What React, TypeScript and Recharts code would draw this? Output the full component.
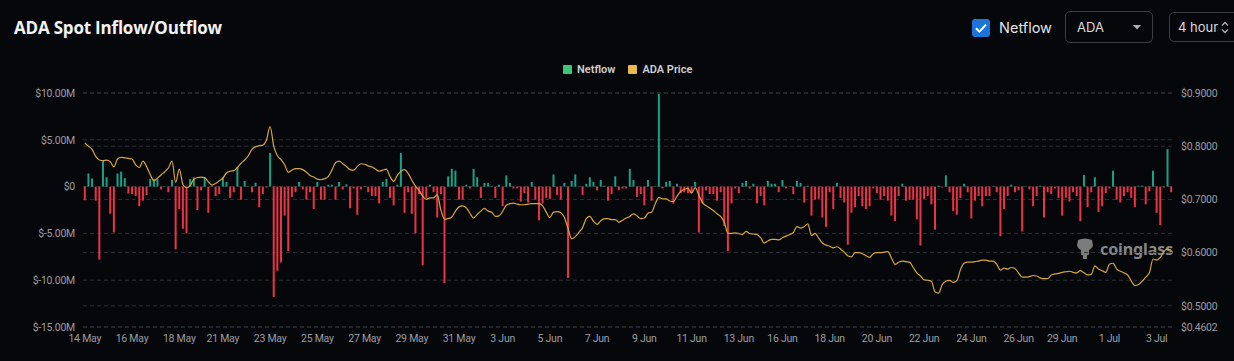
import React from 'react';
import { ComposedChart, Bar, Line, XAxis, YAxis, CartesianGrid, Cell } from 'recharts';

// Netflow per 4h bucket, in millions of USD
const NETFLOW: number[] = [
  -1.46, 1.4, 0.86, -1.5, -7.8, 2.75, 1.0, -2.9, -4.9, 1.4,
  1.6, 0.9, -0.75, -0.8, -1.0, -2.1, -1.5, -0.9, 0.8, 0.8,
  0.8, -0.3, 0.05, -0.6, 0.7, -6.7, -2.4, -4.5, -5.0, 0.8,
  1.0, -2.5, -0.4, 0.9, -2.8, 0.05, -1.0, -0.8, 1.0, 0.5,
  -1.2, -0.6, 2.1, -1.4, 0.6, 0.05, -0.6, 0.4, -2.2, -0.8,
  -0.1, 3.6, -11.8, -9.0, -8.1, -3.1, -6.9, -1.1, -0.6, 0.5,
  -0.3, -1.4, -0.6, -2.4, 0.5, -1.4, -1.4, 0.2, 0.2, -1.4,
  0.5, -0.3, 0.25, -2.3, -0.2, -3.0, -0.3, 0.05, -0.6, -1.0,
  -1.0, -1.8, 0.5, 0.8, -1.2, -2.0, 0.2, 3.6, -2.8, -0.6,
  -2.9, -5.0, -0.8, -8.4, -1.2, 0.2, -0.6, -3.3, -0.8, -10.3,
  1.1, 1.9, 1.7, -1.4, -1.4, 0.2, -0.2, 1.9, 1.0, -1.2,
  0.4, 0.4, 0.05, -1.2, 0.2, -2.1, 1.2, 0.4, -0.2, -0.2,
  -1.6, -0.7, -1.7, 0.5, -1.4, -3.6, -1.8, -1.2, -1.3, 1.3,
  -0.9, -1.4, 0.4, -9.75, 0.6, 1.3, 0.05, -0.9, 0.3, 1.0,
  0.5, -0.4, 0.7, 0.1, -1.5, -0.8, 1.1, -0.4, -0.2, -0.2,
  1.9, 0.7, -1.1, -0.8, -2.0, 0.7, -1.5, 0.05, 9.9, -0.2,
  0.5, 0.6, -1.8, 0.3, -0.7, -0.6, -0.7, -0.7, 0.5, -4.9,
  -1.8, -0.4, -0.8, -0.8, -1.5, -0.6, -4.2, -6.9, -1.8, -0.2,
  -0.7, 0.4, 0.6, -0.2, 0.3, -1.8, -1.0, -2.0, 0.6, 0.3,
  0.3, -0.6, 0.7, -0.2, 0.05, -0.8, 0.6, 0.4, -1.7, 0.1,
  -3.1, -1.4, -1.3, -3.3, -4.3, -0.6, -2.4, 0.4, -1.2, -1.7,
  -6.2, -2.8, -2.2, -1.0, -2.1, -2.4, -2.1, -0.2, -0.7, -1.4,
  -1.0, -1.5, -3.1, -3.7, -1.0, 0.3, -1.5, -1.4, -1.4, -3.5,
  -6.3, -1.3, -1.0, -1.9, -4.6, 0.1, -0.1, 1.2, -0.6, -2.6,
  -3.0, -1.2, 0.3, -0.6, -3.4, -1.5, -1.0, -2.1, -1.0, -1.0,
  0.05, -0.6, -5.3, -2.4, -1.0, 0.2, -0.6, -0.4, -4.8, 0.05,
  -0.3, -2.1, -1.0, 0.1, -3.3, -0.6, -0.8, -0.2, -1.2, -3.1,
  -1.2, -1.6, -0.6, -1.0, -3.7, 1.25, -2.2, -0.6, 1.0, -2.7,
  -2.1, -0.7, -0.2, 1.7, -1.4, -1.7, -1.0, -0.6, -1.2, -2.2,
  0.1, 0.1, -1.9, -0.5, 1.7, -2.8, -4.1, -0.1, 4.0, -0.6,
];

// ADA price per 4h bucket, USD
const PRICE: number[] = [
  0.806, 0.800, 0.794, 0.781, 0.774, 0.773, 0.774, 0.771, 0.761, 0.776,
  0.779, 0.778, 0.777, 0.776, 0.765, 0.760, 0.772, 0.762, 0.747, 0.735,
  0.740, 0.746, 0.752, 0.759, 0.772, 0.732, 0.757, 0.728, 0.722, 0.726,
  0.738, 0.741, 0.742, 0.741, 0.733, 0.727, 0.730, 0.735, 0.740, 0.750,
  0.753, 0.754, 0.760, 0.768, 0.774, 0.782, 0.794, 0.799, 0.801, 0.802,
  0.812, 0.837, 0.800, 0.782, 0.775, 0.765, 0.751, 0.755, 0.758, 0.758,
  0.756, 0.751, 0.745, 0.742, 0.738, 0.737, 0.739, 0.743, 0.755, 0.769,
  0.772, 0.767, 0.762, 0.756, 0.755, 0.762, 0.767, 0.766, 0.763, 0.761,
  0.757, 0.753, 0.755, 0.757, 0.743, 0.734, 0.745, 0.753, 0.756, 0.749,
  0.736, 0.725, 0.717, 0.706, 0.700, 0.703, 0.703, 0.709, 0.680, 0.663,
  0.664, 0.667, 0.678, 0.686, 0.688, 0.684, 0.674, 0.665, 0.672, 0.678,
  0.683, 0.678, 0.676, 0.668, 0.669, 0.678, 0.689, 0.692, 0.693, 0.691,
  0.690, 0.690, 0.691, 0.692, 0.692, 0.692, 0.688, 0.676, 0.666, 0.676,
  0.677, 0.675, 0.666, 0.645, 0.626, 0.630, 0.638, 0.647, 0.664, 0.668,
  0.659, 0.653, 0.660, 0.664, 0.664, 0.662, 0.662, 0.657, 0.661, 0.665,
  0.668, 0.673, 0.669, 0.664, 0.665, 0.674, 0.676, 0.692, 0.704, 0.701,
  0.701, 0.697, 0.696, 0.706, 0.715, 0.719, 0.721, 0.712, 0.722, 0.708,
  0.694, 0.688, 0.684, 0.679, 0.673, 0.668, 0.657, 0.636, 0.636, 0.637,
  0.636, 0.634, 0.640, 0.636, 0.635, 0.634, 0.628, 0.618, 0.622, 0.625,
  0.625, 0.624, 0.628, 0.631, 0.634, 0.638, 0.649, 0.646, 0.649, 0.654,
  0.632, 0.636, 0.627, 0.618, 0.614, 0.612, 0.609, 0.611, 0.607, 0.601,
  0.594, 0.592, 0.600, 0.600, 0.598, 0.594, 0.591, 0.598, 0.600, 0.600,
  0.601, 0.602, 0.590, 0.578, 0.582, 0.584, 0.583, 0.582, 0.572, 0.562,
  0.556, 0.549, 0.548, 0.546, 0.526, 0.524, 0.540, 0.546, 0.548, 0.544,
  0.547, 0.568, 0.580, 0.582, 0.582, 0.583, 0.584, 0.586, 0.586, 0.584,
  0.584, 0.578, 0.567, 0.571, 0.569, 0.572, 0.570, 0.562, 0.554, 0.554,
  0.555, 0.557, 0.556, 0.552, 0.551, 0.551, 0.558, 0.560, 0.561, 0.563,
  0.564, 0.565, 0.563, 0.562, 0.566, 0.562, 0.558, 0.559, 0.575, 0.569,
  0.566, 0.563, 0.578, 0.580, 0.569, 0.565, 0.562, 0.558, 0.547, 0.538,
  0.540, 0.546, 0.554, 0.562, 0.588, 0.586, 0.591, 0.602, 0.607, 0.604,
];

const TICK_IDX = [0, 13, 26, 38, 51, 64, 77, 90, 103, 115, 128, 141, 154, 167, 180, 192, 205, 218, 231, 244, 257, 269, 282, 295];
const TICK_LABELS = ['14 May', '16 May', '18 May', '21 May', '23 May', '25 May', '27 May', '29 May', '31 May', '3 Jun', '5 Jun', '7 Jun', '9 Jun', '11 Jun', '13 Jun', '16 Jun', '18 Jun', '20 Jun', '22 Jun', '24 Jun', '26 Jun', '29 Jun', '1 Jul', '3 Jul'];
const LEFT_TICKS = [-15, -10, -5, 0, 5, 10];
const RIGHT_TICKS = [0.4602, 0.5, 0.6, 0.7, 0.8, 0.9];

const GREEN = '#17a386';
const RED = '#ec3346';
const GOLD = '#d6a73c';
const BG = '#06070b';
const AXIS_TEXT = '#9b9ea4';
const GRID = '#2e3138';

const data = NETFLOW.map((v, i) => ({ i, netflow: v, price: PRICE[i] }));

const fmtLeft = (v: number) => (v === 0 ? '$0' : `$${v.toFixed(2)}M`);
const fmtRight = (v: number) => `$${v.toFixed(4)}`;
const fmtX = (v: number) => {
  const k = TICK_IDX.indexOf(v);
  return k >= 0 ? TICK_LABELS[k] : '';
};

const tickStyle = { fill: AXIS_TEXT, fontSize: 10.5, fontFamily: 'Roboto, sans-serif', letterSpacing: -0.25 };

export default function App() {
  return (
    <div style={{ position: 'absolute', left: 0, top: 0, width: 1234, height: 361, background: BG, overflow: 'hidden', fontFamily: '"Open Sans", sans-serif' }}>
      {/* Title */}
      <div style={{ position: 'absolute', left: 14, top: 16, fontSize: 17, fontWeight: 700, color: '#f2f2f2', letterSpacing: -0.2, lineHeight: '24px' }}>
        ADA Spot Inflow/Outflow
      </div>
      {/* Checkbox */}
      <div style={{ position: 'absolute', left: 972, top: 19, width: 18, height: 18, borderRadius: 3, background: '#1b74d8' }}>
        <svg width={18} height={18} viewBox="0 0 18 18">
          <path d="M4 9.3 L7.4 12.6 L14 5.6" stroke="#ffffff" strokeWidth={2} fill="none" />
        </svg>
      </div>
      <div style={{ position: 'absolute', left: 999, top: 17, fontSize: 14.5, color: '#e4e4e4', lineHeight: '22px', fontFamily: 'Inter, sans-serif' }}>Netflow</div>
      {/* ADA select */}
      <div style={{ position: 'absolute', left: 1065, top: 11, width: 88, height: 32, boxSizing: 'border-box', border: '1px solid #3a3d44', borderRadius: 5 }}>
        <div style={{ position: 'absolute', left: 11, top: 6, fontSize: 13, color: '#dcdcdc', lineHeight: '18px', fontFamily: 'Inter, sans-serif' }}>ADA</div>
        <svg style={{ position: 'absolute', left: 67, top: 13 }} width={8} height={5} viewBox="0 0 8 5">
          <path d="M0 0 L8 0 L4 4.5 Z" fill="#b0b0b0" />
        </svg>
      </div>
      {/* interval select */}
      <div style={{ position: 'absolute', left: 1169, top: 12, width: 90, height: 30, boxSizing: 'border-box', border: '1px solid #3a3d44', borderRadius: 5 }}>
        <div style={{ position: 'absolute', left: 8, top: 5, fontSize: 13, color: '#dcdcdc', lineHeight: '18px', fontFamily: 'Inter, sans-serif' }}>4 hour</div>
        <svg style={{ position: 'absolute', left: 51, top: 8 }} width={8} height={13} viewBox="0 0 8 13">
          <path d="M1 4.5 L4 1.5 L7 4.5 M1 8.5 L4 11.5 L7 8.5" stroke="#b0b0b0" strokeWidth={1.3} fill="none" />
        </svg>
      </div>
      {/* Legend */}
      <div style={{ position: 'absolute', left: 563, top: 63, display: 'flex', alignItems: 'center', fontSize: 11, fontWeight: 600, color: '#cfd0d2', fontFamily: 'Roboto, sans-serif', lineHeight: '13px' }}>
        <span style={{ display: 'inline-block', width: 9, height: 9, background: '#3cc67c', borderRadius: 1, marginRight: 5 }} />
        <span style={{ marginRight: 13 }}>Netflow</span>
        <span style={{ display: 'inline-block', width: 9, height: 9, background: '#e8b94b', borderRadius: 1, marginRight: 5 }} />
        <span>ADA Price</span>
      </div>
      {/* Watermark */}
      <div style={{ position: 'absolute', left: 1075, top: 238, display: 'flex', alignItems: 'center', opacity: 0.8 }}>
        <svg width={20} height={22} viewBox="0 0 20 22">
          <path d="M3 2 Q10 -1 17 2 L18 7 Q17 11 14 12 L14 16 Q13 18 12 17 L12 21 L8 21 L8 17 Q7 18 6 16 L6 12 Q3 11 2 7 Z" fill="#9a9a9a" />
        </svg>
        <span style={{ marginLeft: 5, fontSize: 16, fontWeight: 700, color: '#a8a8a8', fontFamily: '"Noto Sans", sans-serif', letterSpacing: -0.1 }}>coinglass</span>
      </div>
      <div style={{ position: 'absolute', left: 0, top: 0 }}>
        <ComposedChart width={1234} height={361} data={data} margin={{ top: 93, right: 0, bottom: 0, left: 0 }} barCategoryGap="22%">
          <CartesianGrid yAxisId="left" vertical={false} stroke={GRID} strokeDasharray="4 3" />
          <CartesianGrid yAxisId="right" vertical={false} stroke={GRID} strokeDasharray="4 3" />
          <XAxis
            dataKey="i"
            type="category"
            ticks={TICK_IDX}
            interval={0}
            tickFormatter={fmtX}
            axisLine={false}
            tickLine={false}
            height={34}
            tick={tickStyle}
          />
          <YAxis
            yAxisId="left"
            orientation="left"
            width={83}
            domain={[-15, 10]}
            ticks={LEFT_TICKS}
            tickFormatter={fmtLeft}
            axisLine={false}
            tickLine={false}
            tick={tickStyle}
            allowDataOverflow
          />
          <YAxis
            yAxisId="right"
            orientation="right"
            width={61}
            domain={[0.4602, 0.9]}
            ticks={RIGHT_TICKS}
            tickFormatter={fmtRight}
            axisLine={false}
            tickLine={false}
            tick={tickStyle}
            allowDataOverflow
          />
          <Bar yAxisId="left" dataKey="netflow" isAnimationActive={false}>
            {data.map((d) => (
              <Cell key={d.i} fill={d.netflow >= 0 ? GREEN : RED} />
            ))}
          </Bar>
          <Line
            yAxisId="right"
            dataKey="price"
            type="monotone"
            stroke={GOLD}
            strokeWidth={1.2}
            dot={false}
            activeDot={false}
            isAnimationActive={false}
          />
        </ComposedChart>
      </div>
    </div>
  );
}
